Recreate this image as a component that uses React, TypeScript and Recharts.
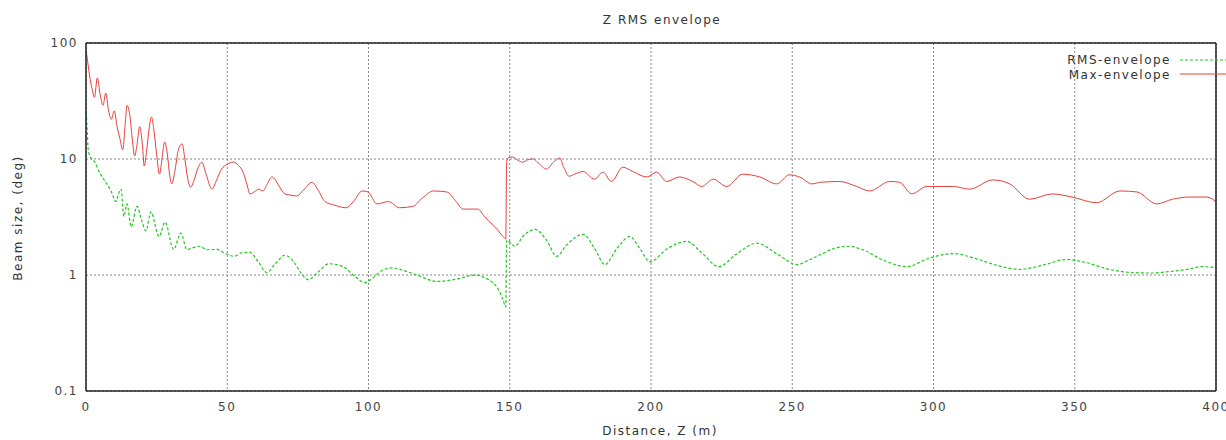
import { LineChart, Line, XAxis, YAxis, CartesianGrid } from 'recharts';

const FONT = '"DejaVu Sans", sans-serif';

// axis ticks
const xTicks = [0, 50, 100, 150, 200, 250, 300, 350, 400];
const yTicks = [0.1, 1, 10, 100];
const yMinorTicks = [
  0.2, 0.3, 0.4, 0.5, 0.6, 0.7, 0.8, 0.9,
  2, 3, 4, 5, 6, 7, 8, 9,
  20, 30, 40, 50, 60, 70, 80, 90,
];

// Max-envelope (red)
const maxZ = [
  0, 0.5, 1, 2, 3, 4, 5, 6, 7, 8, 9, 10, 11, 12, 13, 14, 14.5, 15.5, 16.5, 17.2,
  18, 19, 20, 20.6, 21.5, 22.3, 23.2, 24, 25, 26, 27, 27.8, 28.8, 29.6, 30.4, 31.5,
  32.7, 34, 35, 36, 37, 38.2, 39.5, 41, 42.5, 44.6, 46, 48, 50, 52, 54, 55.6, 57,
  58, 60, 61, 62.7, 64, 65.8, 67, 69, 70.4, 72, 74.6, 77, 80, 82, 84.6, 88, 92, 95,
  97.7, 99.8, 103, 107, 111, 115.7, 119, 123, 127.7, 131, 133.5, 138.7, 141, 144,
  146, 147.6, 148.6, 148.9, 149.4, 151, 153, 154.6, 156.5, 158.3, 160, 163, 165.5,
  167.7, 169, 171, 173.5, 176, 180, 183, 186, 190, 193.6, 198.5, 202, 205.6, 210,
  214.8, 218, 222, 226.8, 232.5, 238.5, 244.5, 249, 252.6, 257, 260, 266.8, 272.8,
  277.4, 284.5, 288, 292.3, 297.6, 306.8, 312.8, 321, 327, 334, 342, 349, 357.7,
  366, 372, 379, 384.6, 390.7, 396.7, 400,
];
const maxVal = [
  88, 72, 58, 42, 34, 50, 36, 29, 37, 26, 22, 26, 19, 15, 12, 22, 29, 24, 14, 10.6,
  13, 19, 13, 8.7, 12, 18, 23, 18, 11, 7.4, 10.5, 14, 11, 7.3, 6.1, 8,
  12, 13.5, 10, 6.8, 5.7, 6.5, 8.2, 9.4, 7.4, 5.5, 6.4, 8.2, 9.0, 9.4, 8.8, 7.7, 6.0,
  5.0, 5.3, 5.5, 5.3, 6.0, 7.0, 6.6, 5.5, 5.0, 4.9, 4.8, 5.4, 6.3, 5.5, 4.3, 4.0, 3.8, 4.4,
  5.3, 5.2, 4.1, 4.3, 3.8, 3.9, 4.6, 5.3, 5.2, 4.3, 3.7, 3.7, 3.2, 2.7,
  2.4, 2.15, 2.05, 9.5, 10.2, 10.4, 9.7, 9.4, 9.9, 10.0, 9.3, 8.2, 9.4,
  10.2, 8.6, 7.1, 7.5, 7.8, 6.7, 7.7, 6.4, 8.5, 7.8, 7.0, 7.7, 6.4, 7.0,
  6.4, 5.8, 6.7, 5.8, 7.4, 7.0, 6.1, 7.3, 7.0, 6.1, 6.3, 6.4, 5.8,
  5.3, 6.4, 6.3, 5.0, 5.8, 5.8, 5.5, 6.6, 6.1, 4.5, 5.0, 4.7, 4.2,
  5.3, 5.2, 4.1, 4.5, 4.7, 4.7, 4.3,
];

// RMS-envelope (green)
const rmsZ = [
  0, 0.4, 0.8, 1.5, 3, 5, 7, 9, 10.6, 11.5, 12.4, 13.4, 14.5, 16, 18, 19.8, 21.2, 23,
  25.8, 28, 31, 33.6, 35.7, 38, 40, 43, 46.4, 49, 52.4, 55, 58, 61, 64, 67, 70.4, 73,
  76, 78.6, 82, 86, 91, 95, 98.7, 101, 105, 108, 111, 114.6, 118, 124, 131, 138, 141,
  144, 146, 147.5, 148.6, 148.9, 151.8, 155, 159, 163, 166.6, 170, 176, 180, 183.7,
  188, 192.5, 196, 199.6, 206, 212.7, 218, 224, 230, 237.4, 245, 251.6, 256, 260,
  265, 270, 275, 282, 290.5, 298.6, 307, 316, 323, 330.5, 339, 347, 354, 362, 370.5,
  377, 383.6, 390, 395, 400,
];
const rmsVal = [
  28, 18, 12, 10.5, 9.5, 7.5, 6.3, 5.2, 4.3, 5.0, 5.5, 3.2, 4.1, 2.6, 3.9, 2.9, 2.4, 3.5,
  2.15, 2.85, 1.66, 2.3, 1.66, 1.72, 1.77, 1.65, 1.66, 1.55, 1.45, 1.55, 1.57, 1.3, 1.05, 1.25, 1.48, 1.35,
  1.05, 0.91, 1.05, 1.25, 1.18, 0.98, 0.86, 0.92, 1.1, 1.15, 1.12, 1.05, 0.98, 0.88, 0.92, 1.0, 0.95,
  0.86, 0.75, 0.62, 0.53, 2.0, 1.77, 2.2, 2.47, 2.0, 1.45, 1.8, 2.24, 1.7, 1.23,
  1.7, 2.15, 1.7, 1.3, 1.7, 1.95, 1.55, 1.18, 1.5, 1.88, 1.5, 1.23, 1.35, 1.5,
  1.7, 1.77, 1.65, 1.35, 1.18, 1.4, 1.53, 1.36, 1.2, 1.12, 1.22, 1.36, 1.28, 1.12, 1.05,
  1.04, 1.07, 1.12, 1.18, 1.16,
];

const maxData = maxZ.map((z, i) => ({ z, v: maxVal[i] }));
const rmsData = rmsZ.map((z, i) => ({ z, v: rmsVal[i] }));

const frame = { stroke: '#222', strokeWidth: 1.5 };
const tickText = { fontSize: 12, fill: '#444', fontFamily: FONT, letterSpacing: 1.5 };

export default function App() {
  return (
    <div style={{ position: 'absolute', left: 0, top: 0, width: 1226, height: 440, background: '#fff' }}>
      <LineChart width={1226} height={440} margin={{ top: 43, right: 10, bottom: 19, left: 0 }}>
        <CartesianGrid xAxisId="x" yAxisId="y" stroke="#888" strokeDasharray="2 2" />
        <XAxis xAxisId="x" type="number" dataKey="z" domain={[0, 400]} ticks={xTicks} interval={0}
          height={30} tickSize={0} tickMargin={11} tickLine={false} axisLine={frame} tick={tickText} allowDataOverflow />
        <XAxis xAxisId="xb" orientation="bottom" mirror height={1} type="number" domain={[0, 400]} ticks={xTicks}
          interval={0} tick={false} tickSize={6} axisLine={false} tickLine={{ stroke: '#111' }} />
        <XAxis xAxisId="xt" orientation="top" mirror height={1} type="number" domain={[0, 400]} ticks={xTicks}
          interval={0} tick={false} tickSize={6} axisLine={frame} tickLine={{ stroke: '#111' }} />
        <YAxis yAxisId="y" type="number" scale="log" domain={[0.1, 100]} ticks={yTicks} interval={0}
          width={86} tickSize={0} tickMargin={8} tickLine={false} axisLine={frame} tick={tickText} allowDataOverflow />
        <YAxis yAxisId="ym" orientation="left" mirror width={1} type="number" scale="log" domain={[0.1, 100]}
          ticks={yMinorTicks} interval={0} tick={false} tickSize={4} axisLine={false} tickLine={{ stroke: '#111' }} allowDataOverflow />
        <YAxis yAxisId="yr" orientation="right" mirror width={1} type="number" scale="log" domain={[0.1, 100]}
          ticks={yMinorTicks} interval={0} tick={false} tickSize={4} axisLine={frame} tickLine={{ stroke: '#111' }} allowDataOverflow />
        <Line xAxisId="x" yAxisId="y" data={rmsData} dataKey="v" type="monotoneX" stroke="#22c822"
          strokeWidth={1.2} strokeDasharray="3 2" dot={false} isAnimationActive={false} />
        <Line xAxisId="x" yAxisId="y" data={maxData} dataKey="v" type="monotoneX" stroke="#e8403c"
          strokeWidth={1} dot={false} isAnimationActive={false} />
      </LineChart>
      <svg width={1226} height={440} style={{ position: 'absolute', left: 0, top: 0, pointerEvents: 'none' }}>
        <g fontFamily={FONT} fontSize={12} fill="#333" letterSpacing={1.5}>
          <text x={662} y={20} textAnchor="middle" dominantBaseline="central">Z RMS envelope</text>
          <text x={660} y={431} textAnchor="middle" dominantBaseline="central">Distance, Z (m)</text>
          <text x={18} y={218} textAnchor="middle" dominantBaseline="central" transform="rotate(-90 18 218)">
            Beam size, (deg)
          </text>
          <text x={1171} y={60} textAnchor="end" dominantBaseline="central">RMS-envelope</text>
          <text x={1171} y={75} textAnchor="end" dominantBaseline="central">Max-envelope</text>
        </g>
        <line x1={1180} y1={60} x2={1226} y2={60} stroke="#22c822" strokeWidth={1.2} strokeDasharray="3 2" />
        <line x1={1180} y1={74} x2={1226} y2={74} stroke="#e8403c" strokeWidth={1} />
      </svg>
    </div>
  );
}
